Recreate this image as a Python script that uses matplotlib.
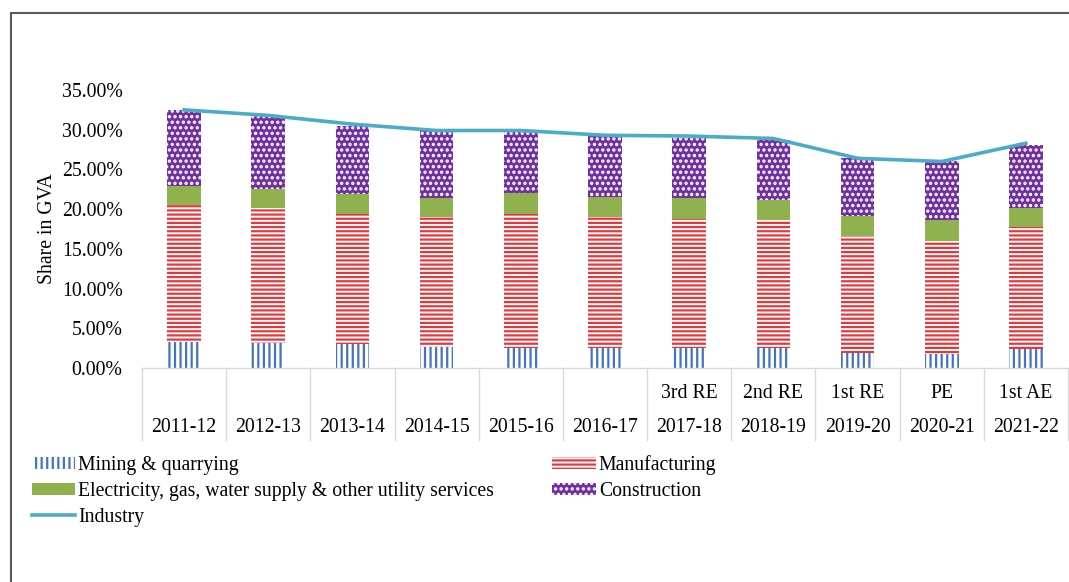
import matplotlib
matplotlib.use("Agg")
import matplotlib.pyplot as plt
import numpy as np
from matplotlib.patches import Rectangle
from matplotlib.ticker import FuncFormatter

years = ['2011-12', '2012-13', '2013-14', '2014-15', '2015-16', '2016-17',
         '2017-18', '2018-19', '2019-20', '2020-21', '2021-22']
estimates = ['', '', '', '', '', '', '3rd RE', '2nd RE', '1st RE', 'PE', '1st AE']
mining = [3.3, 3.2, 3.0, 2.7, 2.5, 2.5, 2.5, 2.5, 1.9, 1.75, 2.35]
manufacturing = [17.2, 16.9, 16.4, 16.3, 16.9, 16.5, 16.3, 16.1, 14.7, 14.25, 15.35]
utilities = [2.4, 2.4, 2.5, 2.4, 2.6, 2.5, 2.6, 2.6, 2.5, 2.6, 2.4]
construction = [9.6, 9.2, 8.6, 8.4, 7.8, 7.7, 7.6, 7.5, 7.3, 7.4, 8.0]
industry = [32.5, 31.8, 30.7, 29.9, 29.9, 29.3, 29.2, 28.9, 26.4, 26.0, 28.3]
y_ticks = [0, 5, 10, 15, 20, 25, 30, 35]

plt.rcParams['font.family'] = ['Liberation Serif', 'DejaVu Serif']
plt.rcParams['hatch.linewidth'] = 1.6
FS = 14.2

W, H = 1069, 582
fig = plt.figure(figsize=(W / 100, H / 100), dpi=100)
ax = fig.add_axes([142 / W, 1 - 368 / H, (1068 - 142) / W, (368 - 90) / H])

x = np.arange(len(years))
bw = 0.4
b1 = np.array(mining)
b2 = b1 + np.array(manufacturing)
b3 = b2 + np.array(utilities)

h_min = ax.bar(x, mining, bw, facecolor='white', edgecolor='#4472C4', hatch='|||', linewidth=0,
               label='Mining & quarrying')
h_man = ax.bar(x, manufacturing, bw, bottom=b1, facecolor='white', edgecolor='#E0393E', hatch='----',
               linewidth=0, label='Manufacturing')
h_ut = ax.bar(x, utilities, bw, bottom=b2, facecolor='#8FB14E', edgecolor='#8FB14E', linewidth=0,
              label='Electricity, gas, water supply & other utility services')
h_con = ax.bar(x, construction, bw, bottom=b3, facecolor='#7030A0', edgecolor='white', hatch='...',
               linewidth=0, label='Construction')
h_ind, = ax.plot(x, industry, color='#4BACC6', linewidth=2.6, label='Industry', zorder=5)

ax.set_xlim(-0.5, len(years) - 0.5)
ax.set_ylim(0, 35)
ax.set_yticks(y_ticks)
ax.yaxis.set_major_formatter(FuncFormatter(lambda v, p: f'{v:.2f}%'))
ax.tick_params(axis='y', length=0, pad=14, labelsize=FS)
ax.set_xticks([])
for s in ['top', 'right', 'left']:
    ax.spines[s].set_visible(False)
ax.spines['bottom'].set_color('#D9D9D9')
ax.spines['bottom'].set_linewidth(1)

ax.set_ylabel('Share in GVA', fontsize=FS)
ax.yaxis.set_label_coords(-0.092, 0.5)

trans = ax.get_xaxis_transform()
axh = 368 - 90
for i in range(len(years) + 1):
    ax.plot([i - 0.5, i - 0.5], [0, -(440 - 368) / axh], color='#D9D9D9', linewidth=1,
            transform=trans, clip_on=False)
for i, (yr, est) in enumerate(zip(years, estimates)):
    ax.text(i, -(428 - 368) / axh, yr, transform=trans, ha='center', va='center', fontsize=FS)
    if est:
        ax.text(i, -(393 - 368) / axh, est, transform=trans, ha='center', va='center', fontsize=FS)

handles = [h_min, h_ut, h_ind, h_man, h_con]
labels = [h.get_label() for h in handles]
fig.legend(handles, labels, ncol=2, loc='upper left', bbox_to_anchor=(32 / W, 1 - 455 / H),
           frameon=False, fontsize=FS, handlelength=2.2, handleheight=0.6, handletextpad=0.15,
           columnspacing=2.95, labelspacing=0.36, borderpad=0, borderaxespad=0)

fig.patches.append(Rectangle((11 / W, -0.1), 1.2, 1 - 13 / H + 0.1, transform=fig.transFigure,
                             fill=False, edgecolor='#5A5A5A', linewidth=1.5))

fig.savefig('out.png', dpi=100)
